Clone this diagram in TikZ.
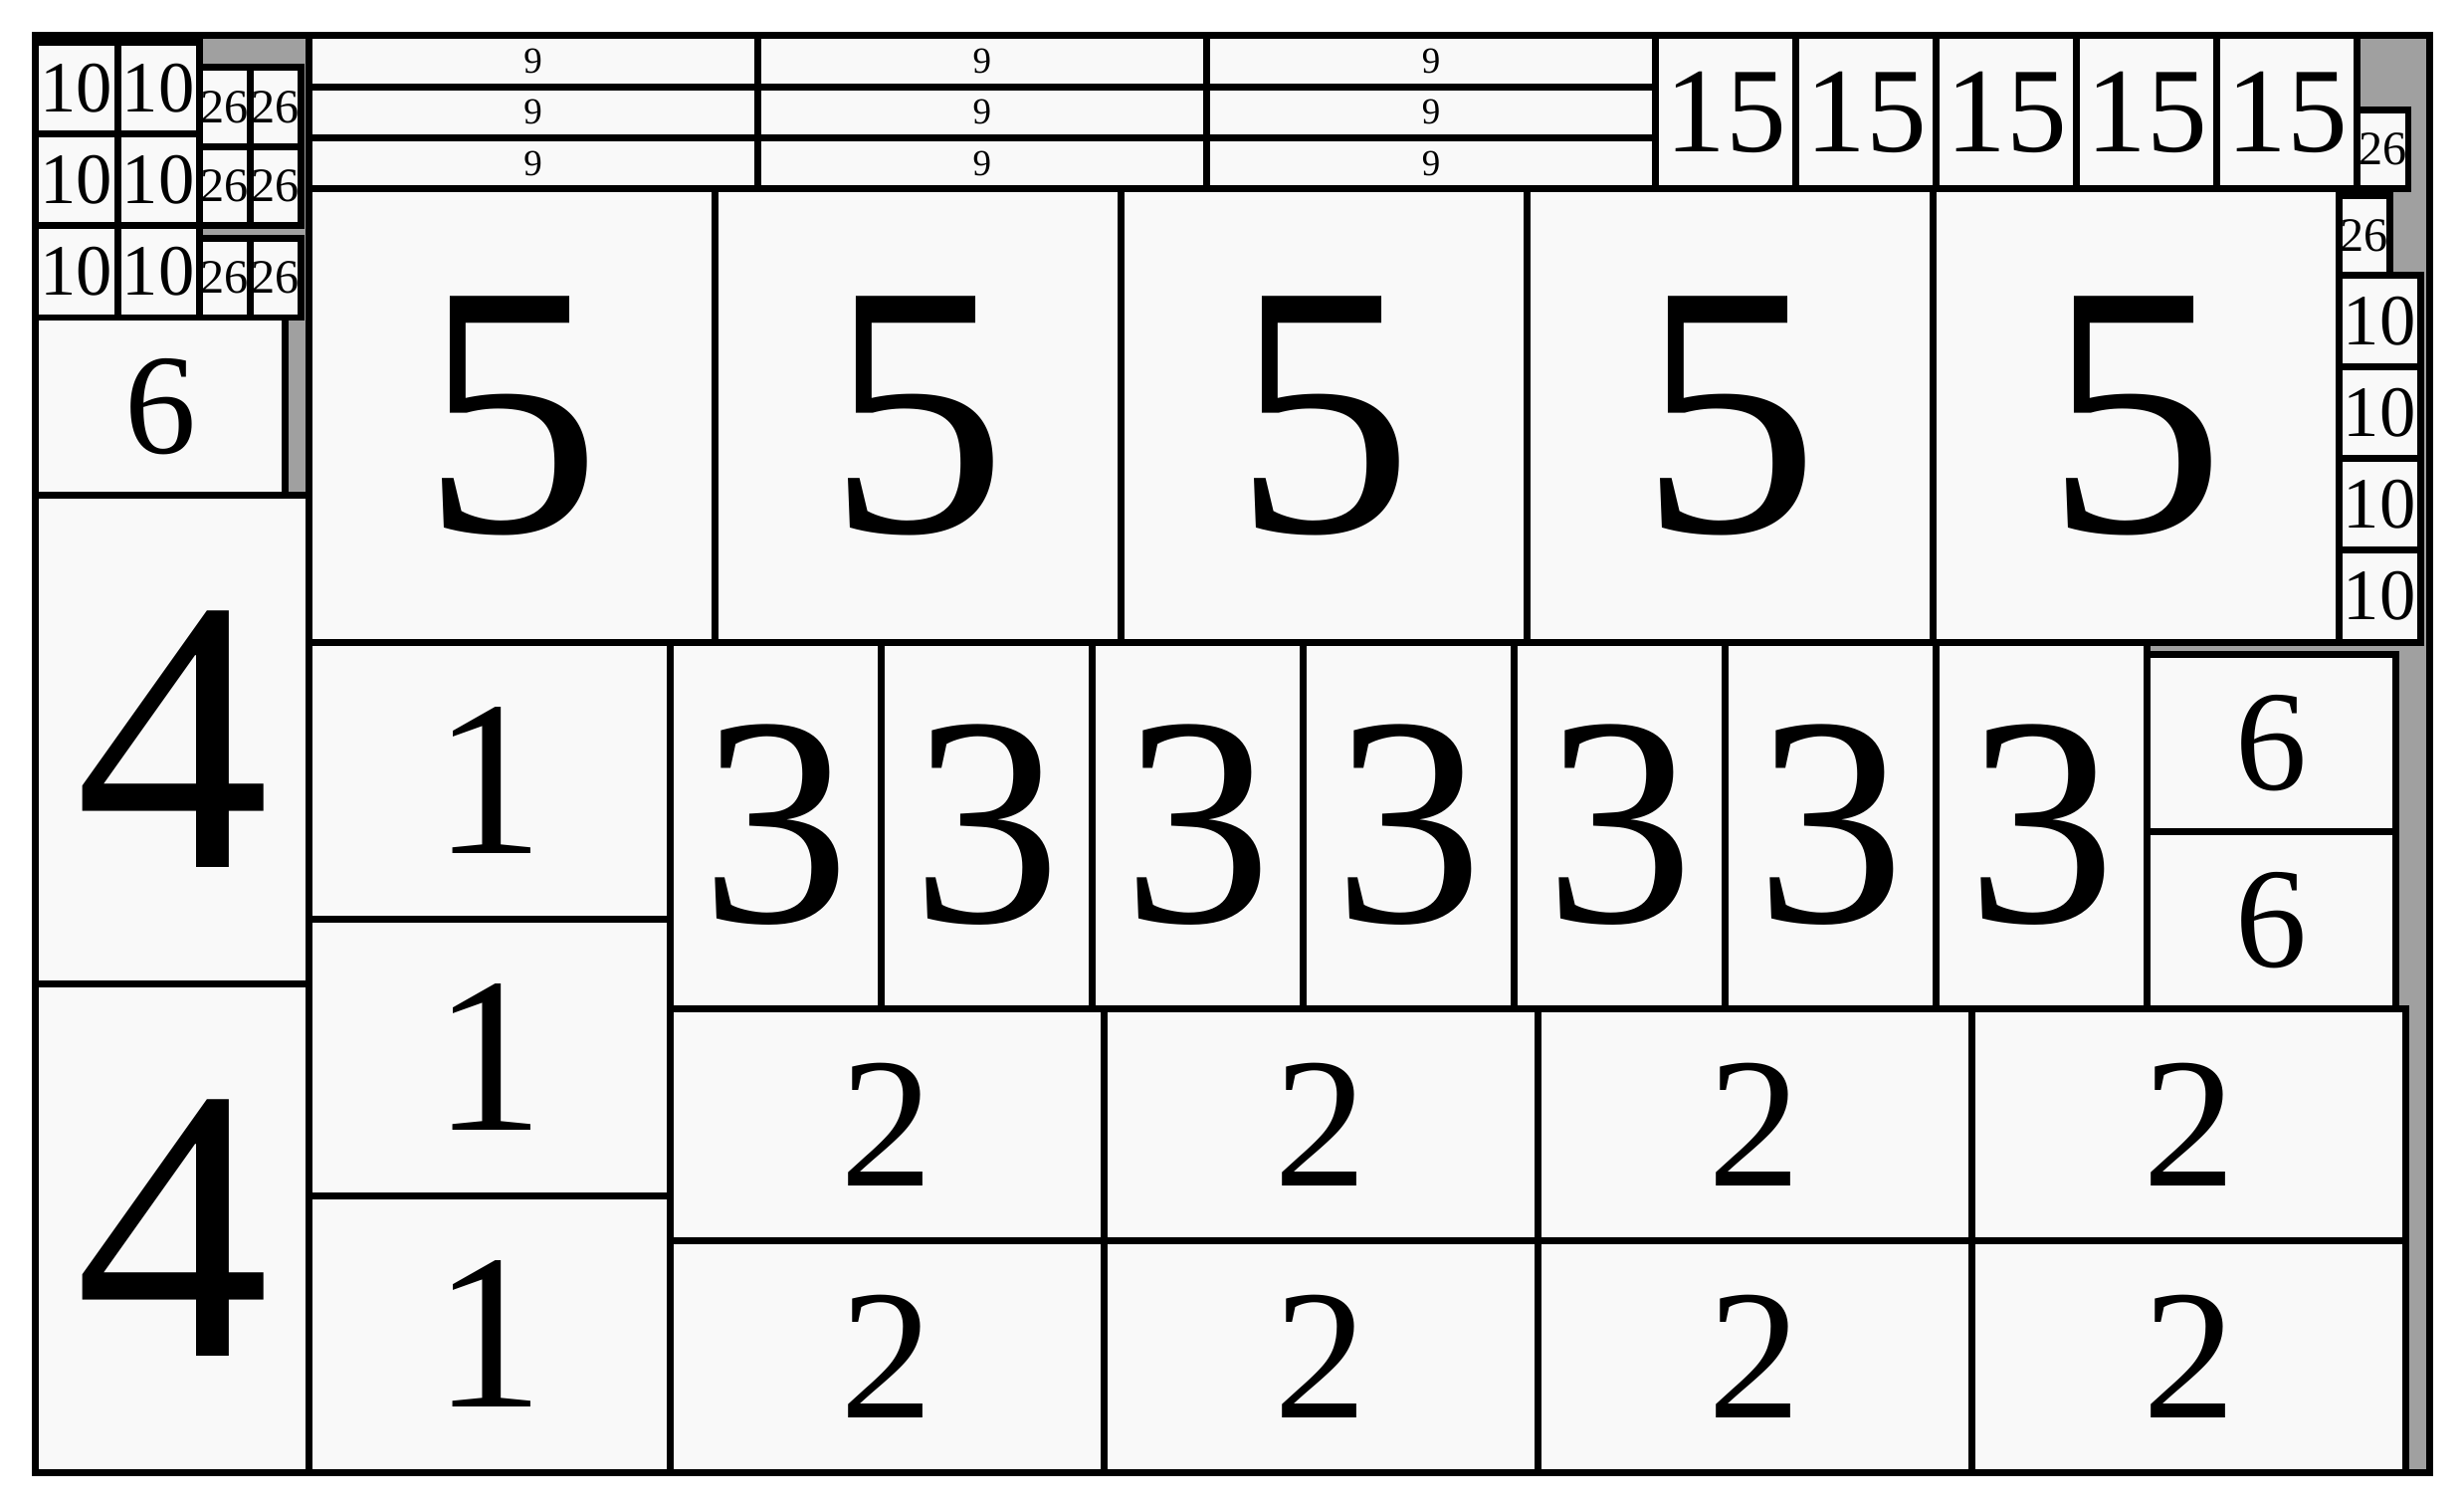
\documentclass[tikz,border=0pt]{standalone}
\usepackage{fontspec}
\setmainfont{Liberation Serif}
\definecolor{binfill}{RGB}{160,160,160}
\definecolor{itemfill}{RGB}{249,249,249}
\begin{document}
\begin{tikzpicture}[x=1pt,y=-1pt,
 item/.style={draw=black,line width=4.4pt,fill=itemfill},
 n1/.style={inner sep=0pt,font=\fontsize{141}{141}\selectfont},
 n2/.style={inner sep=0pt,font=\fontsize{118}{118}\selectfont},
 n3/.style={inner sep=0pt,font=\fontsize{190}{190}\selectfont},
 n4/.style={inner sep=0pt,font=\fontsize{248}{248}\selectfont},
 n5/.style={inner sep=0pt,font=\fontsize{229}{229}\selectfont},
 n6/.style={inner sep=0pt,font=\fontsize{91}{91}\selectfont},
 n9/.style={inner sep=0pt,font=\fontsize{23.4}{23.4}\selectfont},
 n10/.style={inner sep=0pt,font=\fontsize{46}{46}\selectfont},
 n15/.style={inner sep=0pt,font=\fontsize{77}{77}\selectfont},
 n26/.style={inner sep=0pt,font=\fontsize{30.5}{30.5}\selectfont}]
 \useasboundingbox (0,0) rectangle (1568,959.4);
 \fill[binfill] (22.7,22.6) rectangle (1545.9,936.9);
 \draw[item] (22.7,26.9) rectangle (74.8,85.3) node[midway,n10] (tenA) {10};
 \draw[item] (74.8,26.9) rectangle (126.7,85.3) node[midway,n10] (tenB) {10};
 \draw[item] (22.7,85.3) rectangle (74.8,143.6) node[midway,n10] (tenC) {10};
 \draw[item] (74.8,85.3) rectangle (126.7,143.6) node[midway,n10] (tenD) {10};
 \draw[item] (22.7,143.6) rectangle (74.8,202.0) node[midway,n10] (tenE) {10};
 \draw[item] (74.8,143.6) rectangle (126.7,202.0) node[midway,n10] (tenF) {10};
 \draw[item] (126.7,43.0) rectangle (159.1,93.3) node[midway,n26] (twsA) {26};
 \draw[item] (159.1,43.0) rectangle (191.5,93.3) node[midway,n26] (twsB) {26};
 \draw[item] (126.7,93.3) rectangle (159.1,143.6) node[midway,n26] (twsC) {26};
 \draw[item] (159.1,93.3) rectangle (191.5,143.6) node[midway,n26] (twsD) {26};
 \draw[item] (126.7,151.7) rectangle (159.1,202.0) node[midway,n26] (twsE) {26};
 \draw[item] (159.1,151.7) rectangle (191.5,202.0) node[midway,n26] (twsF) {26};
 \draw[item] (22.7,202.0) rectangle (181.5,315.0) node[midway,n6] (sixA) {6};
 \draw[item] (22.7,315.0) rectangle (196.4,626.0) node[midway,n4] (fourA) {4};
 \draw[item] (22.7,626.0) rectangle (196.4,936.9) node[midway,n4] (fourB) {4};
 \draw[item] (196.4,22.7) rectangle (482.1,55.2) node[midway,n9] (nineA) {9};
 \draw[item] (482.1,22.7) rectangle (767.9,55.2) node[midway,n9] (nineB) {9};
 \draw[item] (767.9,22.7) rectangle (1053.6,55.2) node[midway,n9] (nineC) {9};
 \draw[item] (196.4,55.2) rectangle (482.1,87.7) node[midway,n9] (nineD) {9};
 \draw[item] (482.1,55.2) rectangle (767.9,87.7) node[midway,n9] (nineE) {9};
 \draw[item] (767.9,55.2) rectangle (1053.6,87.7) node[midway,n9] (nineF) {9};
 \draw[item] (196.4,87.7) rectangle (482.1,120.2) node[midway,n9] (nineG) {9};
 \draw[item] (482.1,87.7) rectangle (767.9,120.2) node[midway,n9] (nineH) {9};
 \draw[item] (767.9,87.7) rectangle (1053.6,120.2) node[midway,n9] (nineI) {9};
 \draw[item] (1053.6,22.7) rectangle (1142.9,120.2) node[midway,n15] (fifA) {15};
 \draw[item] (1142.9,22.7) rectangle (1232.2,120.2) node[midway,n15] (fifB) {15};
 \draw[item] (1232.2,22.7) rectangle (1321.5,120.2) node[midway,n15] (fifC) {15};
 \draw[item] (1321.5,22.7) rectangle (1410.9,120.2) node[midway,n15] (fifD) {15};
 \draw[item] (1410.9,22.7) rectangle (1500.2,120.2) node[midway,n15] (fifE) {15};
 \draw[item] (1500.2,69.9) rectangle (1532.5,120.2) node[midway,n26] (twsG) {26};
 \draw[item] (1488.5,124.6) rectangle (1520.8,174.9) node[midway,n26] (twsH) {26};
 \draw[item] (196.4,120.2) rectangle (454.8,408.5) node[midway,n5] (fiveA) {5};
 \draw[item] (454.8,120.2) rectangle (713.2,408.5) node[midway,n5] (fiveB) {5};
 \draw[item] (713.2,120.2) rectangle (971.6,408.5) node[midway,n5] (fiveC) {5};
 \draw[item] (971.6,120.2) rectangle (1230.0,408.5) node[midway,n5] (fiveD) {5};
 \draw[item] (1230.0,120.2) rectangle (1488.5,408.5) node[midway,n5] (fiveE) {5};
 \draw[item] (1488.5,174.9) rectangle (1540.2,233.3) node[midway,n10] (tenG) {10};
 \draw[item] (1488.5,233.3) rectangle (1540.2,291.7) node[midway,n10] (tenH) {10};
 \draw[item] (1488.5,291.7) rectangle (1540.2,350.1) node[midway,n10] (tenI) {10};
 \draw[item] (1488.5,350.1) rectangle (1540.2,408.5) node[midway,n10] (tenJ) {10};
 \draw[item] (196.4,408.5) rectangle (426.3,584.6) node[midway,n1] (oneA) {1};
 \draw[item] (196.4,584.6) rectangle (426.3,760.7) node[midway,n1] (oneB) {1};
 \draw[item] (196.4,760.7) rectangle (426.3,936.9) node[midway,n1] (oneC) {1};
 \draw[item] (426.3,408.5) rectangle (560.6,641.6) node[midway,n3] (threeA) {3};
 \draw[item] (560.6,408.5) rectangle (694.9,641.6) node[midway,n3] (threeB) {3};
 \draw[item] (694.9,408.5) rectangle (829.2,641.6) node[midway,n3] (threeC) {3};
 \draw[item] (829.2,408.5) rectangle (963.5,641.6) node[midway,n3] (threeD) {3};
 \draw[item] (963.5,408.5) rectangle (1097.8,641.6) node[midway,n3] (threeE) {3};
 \draw[item] (1097.8,408.5) rectangle (1232.1,641.6) node[midway,n3] (threeF) {3};
 \draw[item] (1232.1,408.5) rectangle (1366.4,641.6) node[midway,n3] (threeG) {3};
 \draw[item] (1366.4,416.5) rectangle (1524.8,529.0) node[midway,n6] (sixB) {6};
 \draw[item] (1366.4,529.0) rectangle (1524.8,641.6) node[midway,n6] (sixC) {6};
 \draw[item] (426.3,641.6) rectangle (702.5,789.3) node[midway,n2] (twoA) {2};
 \draw[item] (702.5,641.6) rectangle (978.7,789.3) node[midway,n2] (twoB) {2};
 \draw[item] (978.7,641.6) rectangle (1254.9,789.3) node[midway,n2] (twoC) {2};
 \draw[item] (1254.9,641.6) rectangle (1531.1,789.3) node[midway,n2] (twoD) {2};
 \draw[item] (426.3,789.3) rectangle (702.5,936.9) node[midway,n2] (twoE) {2};
 \draw[item] (702.5,789.3) rectangle (978.7,936.9) node[midway,n2] (twoF) {2};
 \draw[item] (978.7,789.3) rectangle (1254.9,936.9) node[midway,n2] (twoG) {2};
 \draw[item] (1254.9,789.3) rectangle (1531.1,936.9) node[midway,n2] (twoH) {2};
 \draw[line width=4.4pt] (22.7,22.6) rectangle (1545.9,936.9);
\end{tikzpicture}
\end{document}
